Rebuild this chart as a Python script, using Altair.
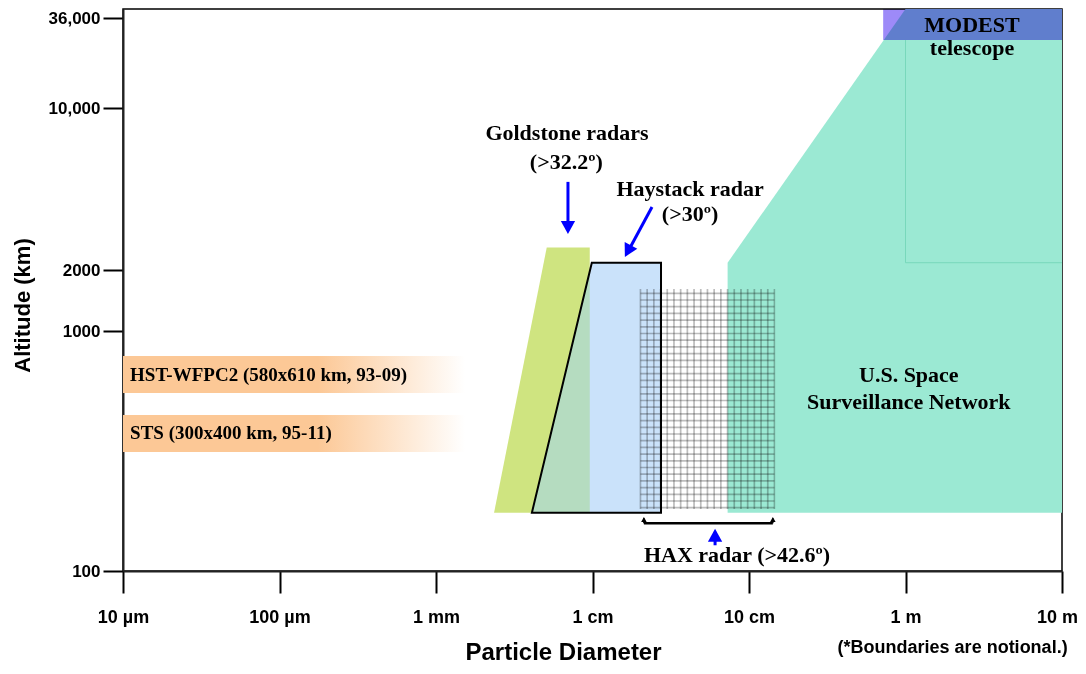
import altair as alt
import pandas as pd

# ---------------- axis ticks ----------------
x_tick_values = [1e-5, 1e-4, 1e-3, 1e-2, 1e-1, 1, 10]
x_tick_labels = ["10 µm", "100 µm", "1 mm", "1 cm", "10 cm", "1 m", "10 m"]
y_tick_values = [100, 1000, 2000, 10000, 36000]
y_tick_labels = ["100", "1000", "2000", "10,000", "36,000"]

# piecewise (non-uniform) altitude axis breakpoints, km
alt_breaks = [100, 1000, 2000, 10000, 36000, 41500]

# ---------------- sensor regions (diameter in m, altitude in km) ----------------
floor_km = 175
goldstone_d = [2.35e-3, 5.1e-3, 9.6e-3]
goldstone_top = [175, 2500, 2500]
haystack_d = [4.1e-3, 9.9e-3, 2.74e-2]
haystack_top = [175, 2150, 2150]
overlap_d = [4.1e-3, 9.6e-3]
overlap_top = [175, 1940]
ssn_d = [7.3e-2, 1.0, 10.0]
ssn_top = [2150, 41500, 41500]
modest_d = [0.72, 10.0]
modest_alt = [26300, 41500]
modest_edge_d = [1.0, 10.0]
modest_edge_alt = [2150, 26300]
hax_d = [2.0e-2, 1.47e-1]
hax_alt = [175, 1550]
hax_bracket_d = [2.13e-2, 1.42e-1]
hax_bracket_alt = [158, 166, 168]

# ---------------- orbital bands ----------------
band_names = ["HST-WFPC2 (580x610 km, 93-09)", "STS (300x400 km, 95-11)"]
band_low = [552, 313]
band_high = [787, 447]
band_mid = [656, 376]
band_d = [1e-5, 1.53e-3]
band_text_d = 1.11e-5

# ---------------- annotations ----------------
label_text = ["Goldstone radars", "(>32.2º)", "Haystack radar", "(>30º)",
              "MODEST", "telescope", "U.S. Space", "Surveillance Network",
              "HAX radar (>42.6º)"]
label_d = [6.87e-3, 6.8e-3, 4.2e-2, 4.2e-2, 2.66, 2.66, 1.05, 1.05, 8.38e-2]
label_alt = [7800, 5850, 4470, 3490, 32600, 23500, 656, 506, 117]

# arrows: shaft start, shaft end, tip, head angle
arrow_d0 = [6.97e-3, 2.40e-2, 6.07e-2]
arrow_a0 = [4800, 3740, 128]
arrow_d1 = [6.97e-3, 1.73e-2, 6.07e-2]
arrow_a1 = [3220, 2484, 136]
arrow_tip_d = [6.97e-3, 1.61e-2, 6.07e-2]
arrow_tip_a = [2860, 2277, 150]
arrow_angle = [180, 208, 0]

note_text = "(*Boundaries are notional.)"
note_d = 2.0
note_alt = 48

# ---------------- styling ----------------
SANS = "Liberation Sans, Arial, sans-serif"
SERIF = "Liberation Serif, Times New Roman, serif"
ARROW = "M0,0L-0.55,1L0.55,1Z"

x_label_expr = "[" + ",".join("'%s'" % s for s in x_tick_labels) + "][round(log(datum.value)/LN10)+5]"
y_label_expr = ("{" + ",".join("'%d':'%s'" % (v, s) for v, s in zip(y_tick_values, y_tick_labels)) + "}[''+datum.value]")

XS = alt.Scale(type="log", domain=[1e-5, 10], nice=False)
YS = alt.Scale(type="log", domain=alt_breaks, range=[562, 322, 261, 99, 9, 0], nice=False, zero=False)

x_axis = alt.Axis(values=x_tick_values, labelExpr=x_label_expr, title="Particle Diameter",
                  tickSize=22, tickWidth=2, tickColor="black", domainColor="#222", domainWidth=2,
                  labelFont=SANS, labelFontSize=18, labelFontWeight="bold", labelColor="black",
                  labelPadding=15, labelFlush=False, labelOverlap=False, grid=False,
                  labelOffset={"condition": {"test": "datum.value >= 10", "value": -5}, "value": 0},
                  titleFont=SANS, titleFontSize=24, titleFontWeight="bold", titleColor="black",
                  titleX=440, titleY=88, titleBaseline="alphabetic")
y_axis = alt.Axis(values=y_tick_values, labelExpr=y_label_expr, title="Altitude (km)",
                  tickSize=20, tickWidth=2, tickColor="black", domainColor="#222", domainWidth=2,
                  labelFont=SANS, labelFontSize=17, labelFontWeight="bold", labelColor="black",
                  labelPadding=3, labelOverlap=False, grid=False,
                  titleFont=SANS, titleFontSize=22, titleFontWeight="bold", titleColor="black",
                  titlePadding=14, titleY=296)


def X(f="d"):
    return alt.X(f"{f}:Q", scale=XS, axis=x_axis)


def Y(f="a"):
    return alt.Y(f"{f}:Q", scale=YS, axis=y_axis)


def poly(ds, tops):
    return pd.DataFrame({"d": ds, "a": tops, "a2": [floor_km] * len(ds)})


# bands
bands_df = pd.DataFrame({"name": band_names, "lo": band_low, "hi": band_high, "mid": band_mid,
                         "d": [band_d[0]] * 2, "d2": [band_d[1]] * 2, "td": [band_text_d] * 2})
grad = alt.Gradient(gradient="linear", x1=0, x2=1, y1=0, y2=0,
                    stops=[alt.GradientStop(color="#fcc896", offset=0),
                           alt.GradientStop(color="#fcc896", offset=0.57),
                           alt.GradientStop(color="#ffffff", offset=1)])
bands = alt.Chart(bands_df).mark_rect(fill=grad).encode(x=X("d"), x2="d2:Q", y=Y("lo"), y2="hi:Q")
band_txt = alt.Chart(bands_df).mark_text(font=SERIF, fontWeight="bold", fontSize=19, align="left",
                                         baseline="middle", color="black").encode(
    x=X("td"), y=Y("mid"), text="name:N")

green = alt.Chart(poly(goldstone_d, goldstone_top)).mark_area(orient="vertical", color="#cfe480").encode(
    x=X(), y=Y(), y2="a2:Q")
hay = alt.Chart(poly(haystack_d, haystack_top)).mark_area(orient="vertical", color="#cae2fa").encode(
    x=X(), y=Y(), y2="a2:Q")
ovl = alt.Chart(poly(overlap_d, overlap_top)).mark_area(orient="vertical", color="#b5dcc0").encode(
    x=X(), y=Y(), y2="a2:Q")
ssn = alt.Chart(poly(ssn_d, ssn_top)).mark_area(orient="vertical", color="#9be9d3").encode(
    x=X(), y=Y(), y2="a2:Q")
modest_df = pd.DataFrame({"d": [modest_d[0]], "d2": [modest_d[1]], "a": [modest_alt[0]], "a2": [modest_alt[1]]})
modest = alt.Chart(modest_df).mark_rect(color="#9d8af8", blend="multiply").encode(
    x=X(), x2="d2:Q", y=Y(), y2="a2:Q")
edge_v = alt.Chart(pd.DataFrame({"d": [modest_edge_d[0]], "a": [modest_edge_alt[0]], "a2": [modest_edge_alt[1]]})
                   ).mark_rule(color="#78d8bb", strokeWidth=1).encode(x=X(), y=Y(), y2="a2:Q")
edge_h = alt.Chart(pd.DataFrame({"d": [modest_edge_d[0]], "d2": [modest_edge_d[1]], "a": [modest_edge_alt[0]]})
                   ).mark_rule(color="#78d8bb", strokeWidth=1).encode(x=X(), x2="d2:Q", y=Y())

# HAX hatch (grid texture drawn as dashed wide strokes)
gm_d = (hax_d[0] * hax_d[1]) ** 0.5
gm_a = (hax_alt[0] * hax_alt[1]) ** 0.5
hatch_v = alt.Chart(pd.DataFrame({"d": [hax_d[0]], "d2": [hax_d[1]], "a": [gm_a]})).mark_rule(
    color="#bdbdbd", strokeWidth=220, strokeDash=[1.7, 5.0], blend="multiply").encode(
    x=X(), x2="d2:Q", y=Y())
hatch_h = alt.Chart(pd.DataFrame({"d": [gm_d], "a": [hax_alt[1]], "a2": [hax_alt[0]]})).mark_rule(
    color="#bdbdbd", strokeWidth=134, strokeDash=[1.7, 5.0], blend="multiply").encode(
    x=X(), y=Y(), y2="a2:Q")

hay_outline = alt.Chart(poly(haystack_d, haystack_top)).mark_area(
    orient="vertical", fillOpacity=0, stroke="black", strokeWidth=2).encode(x=X(), y=Y(), y2="a2:Q")

# labels
lab_df = pd.DataFrame({"t": label_text, "d": label_d, "a": label_alt})
labels = alt.Chart(lab_df).mark_text(font=SERIF, fontWeight="bold", fontSize=22, align="center",
                                     baseline="middle", color="black").encode(x=X(), y=Y(), text="t:N")

# arrows
arr_df = pd.DataFrame({"d": arrow_d0, "a": arrow_a0, "d2": arrow_d1, "a2": arrow_a1,
                       "td": arrow_tip_d, "ta": arrow_tip_a, "ang": arrow_angle})
shafts = alt.Chart(arr_df).mark_rule(color="#0000ff", strokeWidth=3).encode(
    x=X(), y=Y(), x2="d2:Q", y2="a2:Q")
heads = alt.Chart(arr_df).mark_point(shape=ARROW, filled=True, size=676, color="#0000ff", opacity=1,
                                     strokeWidth=0).encode(
    x=X("td"), y=Y("ta"), angle=alt.Angle("ang:Q", scale=None))

# HAX bracket
br_h = alt.Chart(pd.DataFrame({"d": [hax_bracket_d[0]], "d2": [hax_bracket_d[1]], "a": [hax_bracket_alt[0]]})
                 ).mark_rule(color="black", strokeWidth=2.5).encode(x=X(), x2="d2:Q", y=Y())
br_df = pd.DataFrame({"d": hax_bracket_d, "a": [hax_bracket_alt[0]] * 2, "a2": [hax_bracket_alt[1]] * 2,
                      "ta": [hax_bracket_alt[2]] * 2})
br_v = alt.Chart(br_df).mark_rule(color="black", strokeWidth=1.5).encode(x=X(), y=Y(), y2="a2:Q")
br_heads = alt.Chart(br_df).mark_point(shape=ARROW, filled=True, size=100, color="black", opacity=1,
                                       strokeWidth=0).encode(x=X(), y=Y("ta"))

note = alt.Chart(pd.DataFrame({"t": [note_text], "d": [note_d], "a": [note_alt]})).mark_text(
    font=SANS, fontWeight="bold", fontSize=18, align="center", baseline="middle", color="black").encode(
    x=X(), y=Y(), text="t:N")

chart = alt.layer(
    bands, band_txt, green, hay, ovl, ssn, modest, edge_v, edge_h, hatch_v, hatch_h, hay_outline,
    labels, shafts, heads, br_h, br_v, br_heads, note
).properties(
    width=939, height=562,
    autosize=alt.AutoSizeParams(type="none"),
    padding={"left": 115, "top": 1, "right": 16, "bottom": 95},
).configure_view(stroke="black", strokeWidth=1.5)

chart.save("out.html", embed_options={"renderer": "svg", "actions": False})
